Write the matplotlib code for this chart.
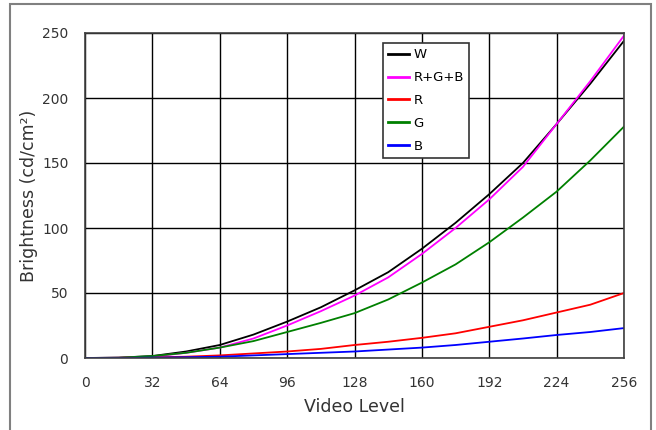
import matplotlib.pyplot as plt
from matplotlib.patches import Rectangle

levels = [0, 16, 32, 48, 64, 80, 96, 112, 128, 144, 160, 176, 192, 208, 224, 240, 256]
w_vals = [0, 0.3, 1.5, 5, 10, 18, 28, 39, 52, 66, 84, 104, 126, 150, 180, 211, 244]
rgb_vals = [0, 0.2, 1, 4, 8, 15, 25, 36, 48, 62, 80, 100, 122, 147, 180, 213, 248]
r_vals = [0, 0.1, 0.5, 1, 2, 3.5, 5, 7, 10, 12.5, 15.5, 19, 24, 29, 35, 41, 50]
g_vals = [0, 0.2, 1.5, 4, 8, 13, 20, 27, 34.5, 45, 58, 72, 89, 108, 128, 152, 178]
b_vals = [0, 0, 0.3, 0.6, 1, 2, 3, 4, 5, 6.5, 8, 10, 12.5, 15, 17.7, 20, 23]

series = [
    ("W", w_vals, "black"),
    ("R+G+B", rgb_vals, "#ff00ff"),
    ("R", r_vals, "#ff0000"),
    ("G", g_vals, "#008000"),
    ("B", b_vals, "#0000ff"),
]

fig = plt.figure(figsize=(6.56, 4.30), dpi=100)
# outer frame around the whole chart
fig.patches.append(Rectangle((10 / 656, -0.01), 641 / 656, 1.0,
                             transform=fig.transFigure, fill=False,
                             edgecolor="#808080", linewidth=1.5))
ax = fig.add_axes([85 / 656, 72 / 430, 539 / 656, 325 / 430])

for name, vals, col in series:
    ax.plot(levels, vals, color=col, linewidth=1.3, label=name)

ax.set_xlim(0, 256)
ax.set_ylim(0, 250)
ax.set_xticks(range(0, 257, 32))
ax.set_yticks(range(0, 251, 50))
ax.grid(True, color="black", linewidth=1)
ax.set_axisbelow(True)
for s in ax.spines.values():
    s.set_color("#404040")
    s.set_linewidth(1.2)
ax.tick_params(length=0, labelsize=10, colors="#333333")
ax.tick_params(axis="y", pad=12)
ax.tick_params(axis="x", pad=13)

ax.set_xlabel("Video Level", fontsize=12.5, color="#333333", labelpad=6)
ax.set_ylabel("Brightness (cd/cm²)", fontsize=12.5, color="#333333")
ax.yaxis.set_label_coords(-0.087, 0.5)

leg = ax.legend(loc="upper left", bbox_to_anchor=(383 / 656, 1 - 43 / 430),
                bbox_transform=fig.transFigure, fontsize=9.5, frameon=True,
                fancybox=False, handlelength=1.6, handletextpad=0.3,
                labelspacing=0.75, borderpad=0.4, borderaxespad=0)
leg.get_frame().set_edgecolor("#333333")
leg.get_frame().set_linewidth(1.2)
leg.get_frame().set_alpha(1)
for line in leg.get_lines():
    line.set_linewidth(2)

fig.savefig("out.png", dpi=100)
